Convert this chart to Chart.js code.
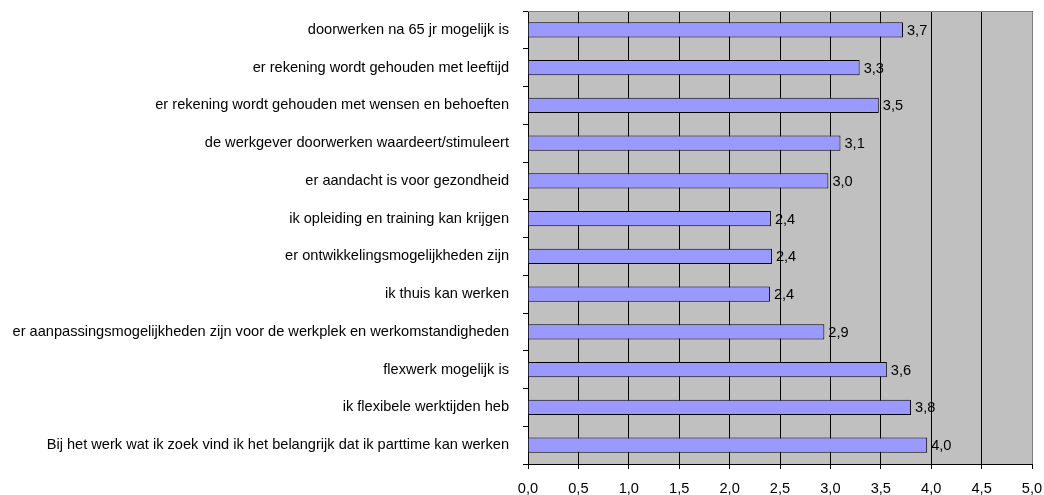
<!DOCTYPE html>
<html>
<head>
<meta charset="utf-8">
<script src="https://cdn.jsdelivr.net/npm/chart.js@4"></script>
<style>
  html,body{margin:0;padding:0;background:#fff;}
  #wrap{width:1044px;height:495px;}
</style>
</head>
<body>
<div id="wrap"><canvas id="c" width="1044" height="495"></canvas></div>
<script>
const labels = [
  'doorwerken na 65 jr mogelijk is',
  'er rekening wordt gehouden met leeftijd',
  'er rekening wordt gehouden met wensen en behoeften',
  'de werkgever doorwerken waardeert/stimuleert',
  'er aandacht is voor gezondheid',
  'ik opleiding en training kan krijgen',
  'er ontwikkelingsmogelijkheden zijn',
  'ik thuis kan werken',
  'er aanpassingsmogelijkheden zijn voor de werkplek en werkomstandigheden',
  'flexwerk mogelijk is',
  'ik flexibele werktijden heb',
  'Bij het werk wat ik zoek vind ik het belangrijk dat ik parttime kan werken'
];
const values = [3.72, 3.29, 3.48, 3.10, 2.98, 2.41, 2.42, 2.40, 2.94, 3.56, 3.80, 3.96];
const xMin = 0, xMax = 5, xStep = 0.5;

const FONT = "'Liberation Sans', Arial, sans-serif";
const comma = v => Number(v).toFixed(1).replace('.', ',');

// grey plot area + grey frame on top/right
const plotBg = {
  id:'plotBg',
  beforeDraw(chart){
    const {ctx, chartArea:a} = chart;
    ctx.save();
    ctx.fillStyle = '#c0c0c0';
    ctx.fillRect(a.left, a.top, a.right - a.left, a.bottom - a.top);
    ctx.restore();
  },
  afterDraw(chart){
    const {ctx, chartArea:a} = chart;
    ctx.save();
    ctx.strokeStyle = '#808080';
    ctx.lineWidth = 1;
    ctx.beginPath();
    ctx.moveTo(a.left, a.top + 0.5);
    ctx.lineTo(a.right + 0.5, a.top + 0.5);
    ctx.lineTo(a.right + 0.5, a.bottom);
    ctx.stroke();
    ctx.restore();
  }
};

// value labels at the end of each bar
const endLabels = {
  id:'endLabels',
  afterDatasetsDraw(chart){
    const {ctx} = chart;
    const meta = chart.getDatasetMeta(0);
    ctx.save();
    ctx.font = '14.6px ' + FONT;
    ctx.fillStyle = '#000';
    ctx.textAlign = 'left';
    ctx.textBaseline = 'middle';
    meta.data.forEach((bar, i) => {
      ctx.fillText(comma(values[i]), bar.x + 4, bar.y + 1);
    });
    ctx.restore();
  }
};

new Chart(document.getElementById('c'), {
  type:'bar',
  data:{labels, datasets:[{
    data:values,
    backgroundColor:'#9999ff',
    borderColor:'#000',
    borderWidth:1,
    borderSkipped:'left',
    barPercentage:1,
    categoryPercentage:0.41
  }]},
  options:{
    indexAxis:'y',
    responsive:false,
    animation:false,
    layout:{padding:{top:11, right:12, left:0, bottom:0}},
    plugins:{legend:{display:false}, tooltip:{enabled:false}},
    scales:{
      x:{
        min:xMin, max:xMax,
        grid:{color:'#000', lineWidth:1, drawTicks:true, tickLength:5, tickColor:'#000'},
        border:{color:'#000', width:1},
        ticks:{stepSize:xStep, color:'#000', font:{family:FONT, size:14.6}, padding:11,
          maxRotation:0, callback:v => comma(v)},
        afterFit(s){ s.height = 31; s.paddingLeft = 0; s.paddingRight = 0; }
      },
      y:{
        grid:{drawOnChartArea:false, drawTicks:true, tickLength:5, tickColor:'#000', offset:true},
        border:{color:'#000', width:1},
        ticks:{color:'#000', font:{family:FONT, size:14.6}, padding:14, autoSkip:false},
        afterFit(s){ s.width = 528; s.paddingTop = 0; s.paddingBottom = 0; }
      }
    }
  },
  plugins:[plotBg, endLabels]
});
</script>
</body>
</html>
